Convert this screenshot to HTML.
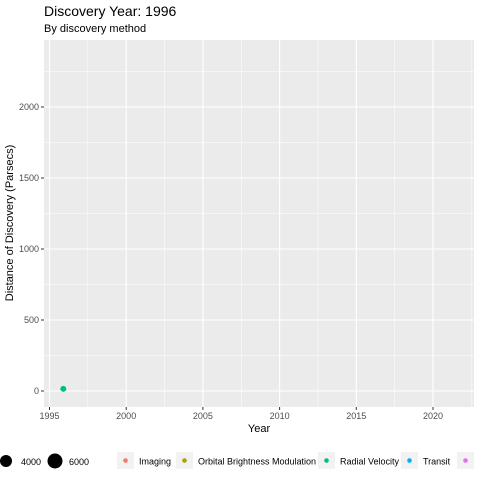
<!DOCTYPE html>
<html><head><meta charset="utf-8"><style>
body{margin:0;background:#fff;font-family:"Liberation Sans",Arial,sans-serif}
</style></head><body>
<svg width="480" height="480" xmlns="http://www.w3.org/2000/svg" font-family="Liberation Sans, Arial, sans-serif">
<text x="44" y="16" font-size="14" fill="#000">Discovery Year: 1996</text>
<text x="44" y="32" font-size="11" fill="#000">By discovery method</text>
<rect x="44" y="40" width="430" height="367" fill="#ebebeb"/>
<g id="grid"></g><g id="axes"></g><g id="marks"></g>
<text x="259" y="432" font-size="11" text-anchor="middle">Year</text>
<text transform="translate(13,223) rotate(-90)" font-size="11" text-anchor="middle">Distance of Discovery (Parsecs)</text>
<g>
<circle cx="6" cy="461" r="6" fill="#000"/>
<text x="21" y="465" font-size="9">4000</text>
<circle cx="55" cy="461" r="7.5" fill="#000"/>
<text x="69" y="465" font-size="9">6000</text>
</g>
<g id="legend"></g>
</svg>
<script>
const methods=["Imaging","Orbital Brightness Modulation","Radial Velocity","Transit",""];
const colors=["#F8766D","#A3A500","#00BF7D","#00B0F6","#E76BF3"];
const years=[1995.9];
const distances=[15.4];
const pointMethods=["Radial Velocity"];
const xTicks=[1995,2000,2005,2010,2015,2020];
const yTicks=[0,500,1000,1500,2000];
const ns="http://www.w3.org/2000/svg";
const X=v=>49.5+(v-1995)*15.34;
const Y=v=>391-v*0.142;
function mk(t,a,p){const e=document.createElementNS(ns,t);for(const k in a)e.setAttribute(k,a[k]);p.appendChild(e);return e;}
const grid=document.getElementById('grid'),axes=document.getElementById('axes'),marks=document.getElementById('marks');
for(let i=0;i<xTicks.length;i++){
 const v=xTicks[i];
 const l=mk('line',{x1:X(v),x2:X(v),y1:40,y2:407,stroke:'#fff','stroke-width':1.1},grid);
 
 const m=mk('line',{x1:X(v+2.5),x2:X(v+2.5),y1:40,y2:407,stroke:'#fff','stroke-width':0.5},grid);
 
 const tk=mk('line',{x1:X(v),x2:X(v),y1:407,y2:410,stroke:'#333'},axes);
 
 const t=mk('text',{x:X(v),y:419,'font-size':9,fill:'#4d4d4d','text-anchor':'middle'},axes);t.textContent=v;
 
}
for(let i=0;i<yTicks.length;i++){
 const v=yTicks[i];
 const l=mk('line',{x1:44,x2:474,y1:Y(v),y2:Y(v),stroke:'#fff','stroke-width':1.1},grid);
 
 const m=mk('line',{x1:44,x2:474,y1:Y(v+250),y2:Y(v+250),stroke:'#fff','stroke-width':0.5},grid);
 
 const tk=mk('line',{x1:41,x2:44,y1:Y(v),y2:Y(v),stroke:'#333'},axes);
 
 const t=mk('text',{x:39,y:Y(v)+3,'font-size':9,fill:'#4d4d4d','text-anchor':'end'},axes);t.textContent=v;
 
}
for(let i=0;i<years.length;i++){
 const c=mk('circle',{cx:X(years[i]),cy:Y(distances[i]),r:3,fill:colors[methods.indexOf(pointMethods[i])]},marks);
 
}
const lg=document.getElementById('legend');
const keyX=[117,176,318,401,457];
for(let i=0;i<methods.length;i++){
 const r=mk('rect',{x:keyX[i],y:452,width:17,height:17,fill:'#f2f2f2'},lg);
 
 const c=mk('circle',{cx:keyX[i]+8.5,cy:460.5,r:2.3,fill:colors[i]},lg);
 
 if(methods[i]){
 const t=mk('text',{x:keyX[i]+22,y:464.5,'font-size':9,fill:'#000'},lg);t.textContent=methods[i];
 }
}
</script>
</body></html>
